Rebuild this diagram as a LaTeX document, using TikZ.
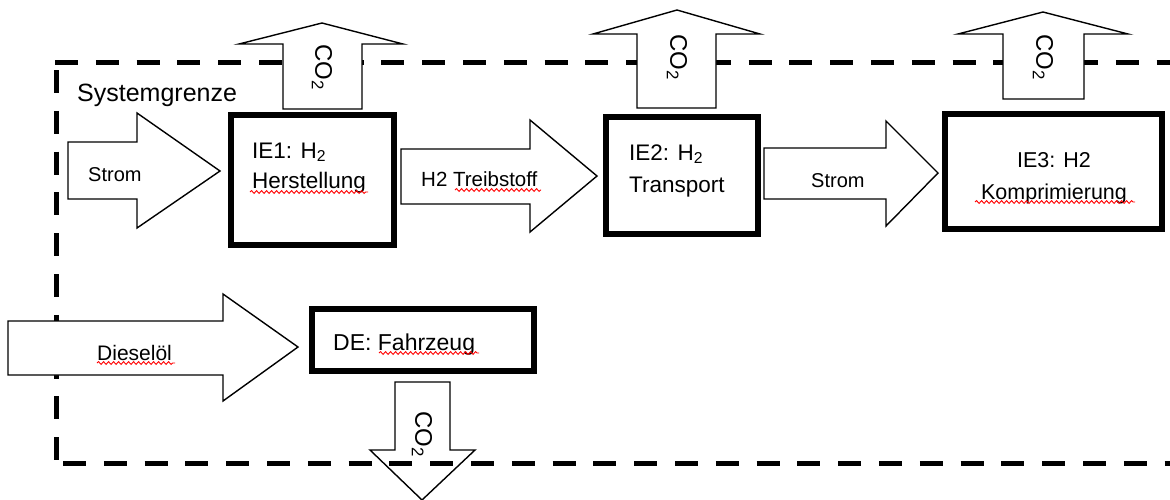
\documentclass[tikz,border=0pt]{standalone}
\usepackage{fontspec}
\setmainfont{Liberation Sans}
\usetikzlibrary{decorations.pathmorphing}
\tikzset{
  boundary/.style={line width=5pt, dash pattern=on 23pt off 17.8pt},
  blockarrow/.style={draw=black, fill=white, line width=1.4pt, line join=miter},
  procbox/.style={draw=black, fill=white, line width=5.5pt, rectangle, inner sep=0pt},
  lbl/.style={anchor=base west, inner sep=0pt, text=black},
  clbl/.style={anchor=base, inner sep=0pt, text=black},
  colbl/.style={rotate=-90, inner sep=0pt, text=black, font=\fontsize{24}{28}\selectfont},
  spell/.style={draw=red, line width=0.9pt, decorate, decoration={snake, amplitude=1.4pt, segment length=5pt}},
}
\newcommand{\fsz}[1]{\fontsize{#1}{#1}\selectfont}
\begin{document}
\begin{tikzpicture}[x=1pt,y=-1pt]
\useasboundingbox (0,0) rectangle (1170,499);
\clip (0,0) rectangle (1170,499);
\fill[white] (0,0) rectangle (1170,499);

% system boundary (top and left)
\coordinate (bTL) at (55,62);
\coordinate (bTR) at (1190,62);
\coordinate (bLT) at (56,70);
\coordinate (bLB) at (56,460);
\coordinate (bBL) at (63,463);
\coordinate (bBR) at (1190,463);
\draw[boundary] (bTL) -- (bTR);
\draw[boundary] (bLT) -- (bLB);

% CO2 arrow out of the vehicle (drawn under the bottom boundary line)
\path[blockarrow] (395,382) -- (395,450) -- (370,450) -- (422,500) -- (475,450) -- (450,450) -- (450,382) -- cycle;
\node[colbl] (co2d) at (422,434) {CO\textsubscript{2}};
\draw[boundary] (bBL) -- (bBR);

% CO2 arrows going up
\path[blockarrow] (283,109) -- (283,44) -- (239,44) -- (322,23) -- (403,44) -- (362,44) -- (362,109) -- cycle;
\node[colbl] (co2a) at (322,67) {CO\textsubscript{2}};
\path[blockarrow] (637,108) -- (637,34) -- (593,34) -- (677,10) -- (760,34) -- (716,34) -- (716,108) -- cycle;
\node[colbl] (co2b) at (677,57) {CO\textsubscript{2}};
\path[blockarrow] (1003,99) -- (1003,34) -- (958,34) -- (1043,12) -- (1128,34) -- (1084,34) -- (1084,99) -- cycle;
\node[colbl] (co2c) at (1043,57) {CO\textsubscript{2}};

% flow arrows
\path[blockarrow] (68,142) -- (137,142) -- (137,113) -- (220,171) -- (137,228) -- (137,199) -- (68,199) -- cycle;
\path[blockarrow] (401,149) -- (530,149) -- (530,120) -- (597,176) -- (530,232) -- (530,204) -- (401,204) -- cycle;
\path[blockarrow] (764,148) -- (886,148) -- (886,121) -- (938,173) -- (886,226) -- (886,199) -- (764,199) -- cycle;
\path[blockarrow] (8,321) -- (223,321) -- (223,294) -- (298,347) -- (223,401) -- (223,375) -- (8,375) -- cycle;

% process boxes
\node[procbox, minimum width=163pt, minimum height=130pt] (ie1) at (312.5,180) {};
\node[procbox, minimum width=152pt, minimum height=117pt] (ie2) at (682,175.5) {};
\node[procbox, minimum width=217pt, minimum height=115pt] (ie3) at (1053.5,171.5) {};
\node[procbox, minimum width=222pt, minimum height=62pt] (de) at (423,340) {};

% labels
\node[lbl, font=\fsz{25}] (sysg) at (77,101) {Systemgrenze};
\node[lbl, font=\fsz{20}] (strom1) at (88,181) {Strom};
\node[lbl, font=\fsz{22.5}] (ie1a) at (252,158) {IE1: H\textsubscript{2}};
\node[lbl, font=\fsz{22.5}] (ie1b) at (252,188) {Herstellung};
\node[lbl, font=\fsz{20.5}] (treib) at (421,186) {H2 Treibstoff};
\node[lbl, font=\fsz{22.5}] (ie2a) at (629,160) {IE2: H\textsubscript{2}};
\node[lbl, font=\fsz{22.5}] (ie2b) at (629,192) {Transport};
\node[lbl, font=\fsz{20}] (strom2) at (811,187) {Strom};
\node[clbl, font=\fsz{21.5}] (ie3a) at (1054,167) {IE3: H2};
\node[clbl, font=\fsz{21.5}] (ie3b) at (1054,199) {Komprimierung};
\node[lbl, font=\fsz{21}] (diesel) at (97,360) {Dieselöl};
\node[lbl, font=\fsz{23}] (dea) at (333,350) {DE: Fahrzeug};

% spell-check underlines
\draw[spell] (250,192) -- (368,192);
\draw[spell] (455,190) -- (541,190);
\draw[spell] (975,202) -- (1135,202);
\draw[spell] (97,363) -- (175,363);
\draw[spell] (379,353) -- (479,353);
\end{tikzpicture}
\end{document}
